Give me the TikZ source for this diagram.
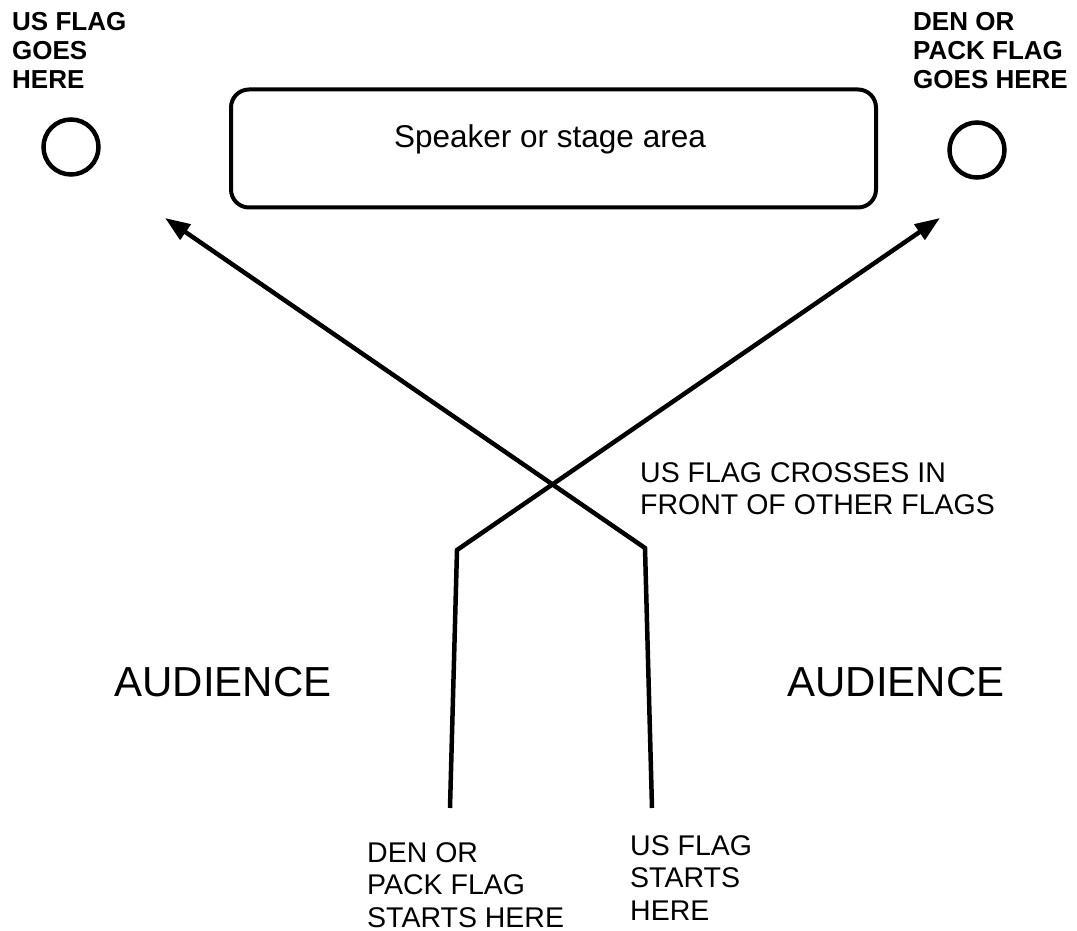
\documentclass[tikz,border=0pt]{standalone}
\usepackage{fontspec}
\setmainfont{Liberation Sans}
\usetikzlibrary{arrows.meta}
\begin{document}
\begin{tikzpicture}[x=1pt,y=-1pt,
  flagspot/.style={draw,circle,line width=4.5pt,minimum size=55pt,inner sep=0pt},
  stagebox/.style={draw,rounded corners=18pt,line width=4pt,minimum width=645pt,minimum height=118pt,inner sep=0pt},
  arr/.style={line width=4.5pt,line join=miter,-{Triangle[length=25pt,width=18pt]}},
  boldlbl/.style={anchor=north west,inner sep=0pt,align=left,font=\fontsize{26}{29}\selectfont\bfseries},
  lbl/.style={anchor=north west,inner sep=0pt,align=left,font=\fontsize{28.5}{32.5}\selectfont},
  big/.style={inner sep=0pt,font=\fontsize{42}{48}\selectfont}]
\useasboundingbox[fill=white] (0,0) rectangle (1077,931);
\node[flagspot] (usspot) at (71,147) {};
\node[flagspot] (denspot) at (977,150) {};
\node[stagebox] (stage) at (553.5,148.5) {};
\node[inner sep=0pt,font=\fontsize{31.5}{36}\selectfont] (stagetxt) at (550,139) {Speaker or stage area};
\node[boldlbl] (ustop) at (12,12) {US FLAG\\GOES\\HERE};
\node[boldlbl] (dentop) at (913,12) {DEN OR\\PACK FLAG\\GOES HERE};
\node[lbl] (cross) at (640,462) {US FLAG CROSSES IN\\FRONT OF OTHER FLAGS};
\node[big] (aud1) at (223,682) {AUDIENCE};
\node[big] (aud2) at (896,682) {AUDIENCE};
\node[lbl] (denstart) at (367,842) {DEN OR\\PACK FLAG\\STARTS HERE};
\node[lbl] (usstart) at (630,835) {US FLAG\\STARTS\\HERE};
\coordinate (usA) at (652,808);
\coordinate (usB) at (645,548);
\coordinate (usC) at (165,218);
\coordinate (denA) at (450,808);
\coordinate (denB) at (457,550);
\coordinate (denC) at (940,218);
\draw[arr] (denA) -- (denB) -- (denC);
\draw[arr] (usA) -- (usB) -- (usC);
\end{tikzpicture}
\end{document}
